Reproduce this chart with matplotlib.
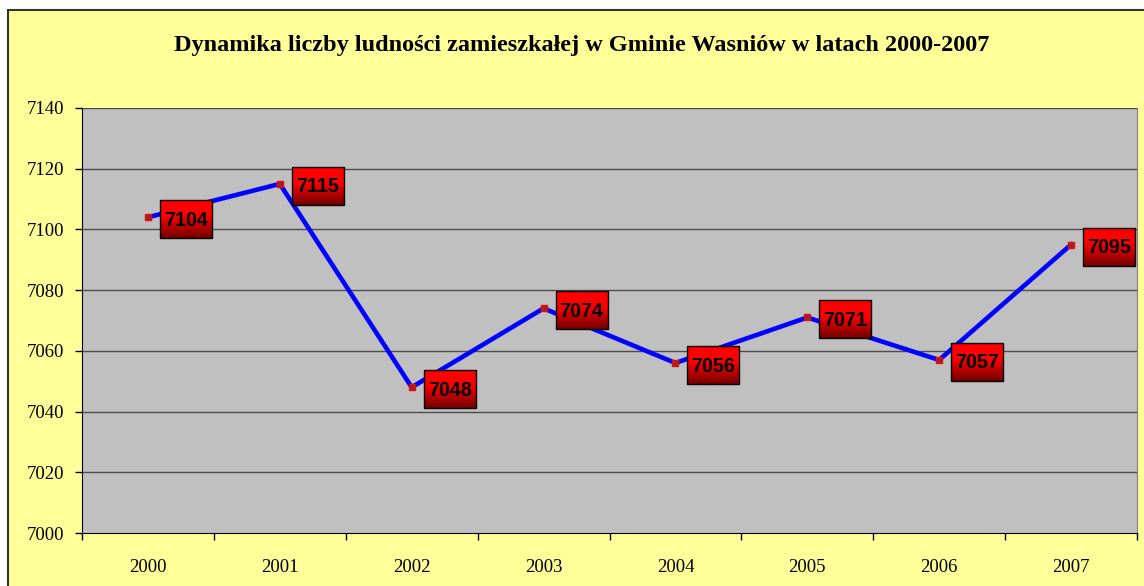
import matplotlib.pyplot as plt
import matplotlib.transforms as mtransforms
from matplotlib.patches import Rectangle
import numpy as np

years = ["2000", "2001", "2002", "2003", "2004", "2005", "2006", "2007"]
population = [7104, 7115, 7048, 7074, 7056, 7071, 7057, 7095]
y_ticks = [7000, 7020, 7040, 7060, 7080, 7100, 7120, 7140]
title = "Dynamika liczby ludności zamieszkałej w Gminie Wasniów w latach 2000-2007"

W, H = 1144, 586
fig = plt.figure(figsize=(W / 100, H / 100), dpi=100)
fig.patch.set_facecolor("white")

# yellow chart frame
frame = Rectangle((8 / W, -0.05), 1.1, 1 - 10 / H + 0.05, transform=fig.transFigure,
                  facecolor="#FFFF99", edgecolor="#333333", linewidth=1.5, zorder=-10)
fig.patches.append(frame)

ax = fig.add_axes([82 / W, 1 - 533 / H, (1137 - 82) / W, (533 - 108) / H], zorder=1)
ax.set_facecolor("#C0C0C0")

x = np.arange(len(years))
ax.set_xlim(-0.5, len(years) - 0.5)
ax.set_ylim(7000, 7140)

for v in y_ticks[1:]:
    ax.axhline(v, color="#4d4d4d", linewidth=1, zorder=1)

ax.plot(x, population, color="#0000FF", linewidth=3.3, zorder=3,
        marker="s", markersize=4, markerfacecolor="#803030", markeredgecolor="#FF0000",
        markeredgewidth=1)

ax.set_yticks(y_ticks)
ax.set_yticklabels([str(v) for v in y_ticks])
ax.set_xticks(np.arange(len(years) + 1) - 0.5)
ax.set_xticklabels([])
ax.set_xticks(x, minor=True)
ax.set_xticklabels(years, minor=True)
ax.tick_params(axis="x", which="minor", length=0, pad=19)
ax.tick_params(axis="x", which="major", length=5, width=1, direction="out")
ax.tick_params(axis="y", length=5, width=1, direction="out", pad=8)
for lab in ax.get_xticklabels(minor=True) + ax.get_yticklabels():
    lab.set_fontfamily("Liberation Serif")
    lab.set_fontsize(13.5)

ax.spines["top"].set_visible(False)
ax.spines["right"].set_color("#808080")
ax.spines["left"].set_color("black")
ax.spines["bottom"].set_color("black")

fig.text(582 / W, 1 - 45 / H, title, ha="center", va="center",
         fontfamily="Liberation Serif", fontweight="bold", fontsize=17.5)

# data labels: red gradient boxes
grad = np.linspace(0, 1, 64)
cols = np.zeros((64, 1, 3))
for i, t in enumerate(grad):
    if t < 0.4:
        r = 1.0
    else:
        r = 1.0 - (t - 0.4) / 0.6 * 0.55
    cols[i, 0] = [r, 0, 0]

for xi, v in zip(x, population):
    px, py = ax.transData.transform((xi, v))
    x0, x1 = px + 12, px + 64
    y0, y1 = py - 21, py + 17
    ax.imshow(cols, extent=(x0, x1, y0, y1), transform=mtransforms.IdentityTransform(),
              aspect="auto", origin="upper", clip_on=False, zorder=5, interpolation="bilinear")
    ax.add_patch(Rectangle((x0, y0), x1 - x0, y1 - y0, transform=mtransforms.IdentityTransform(),
                           facecolor="none", edgecolor="black", linewidth=1, clip_on=False, zorder=6))
    ax.text((x0 + x1) / 2, (y0 + y1) / 2 - 1, str(v), transform=mtransforms.IdentityTransform(),
            ha="center", va="center", fontfamily="Liberation Sans", fontweight="bold",
            fontsize=14.2, color="black", zorder=7, clip_on=False)

ax.set_xlim(-0.5, len(years) - 0.5)
ax.set_ylim(7000, 7140)

fig.savefig("out.png", dpi=100)
